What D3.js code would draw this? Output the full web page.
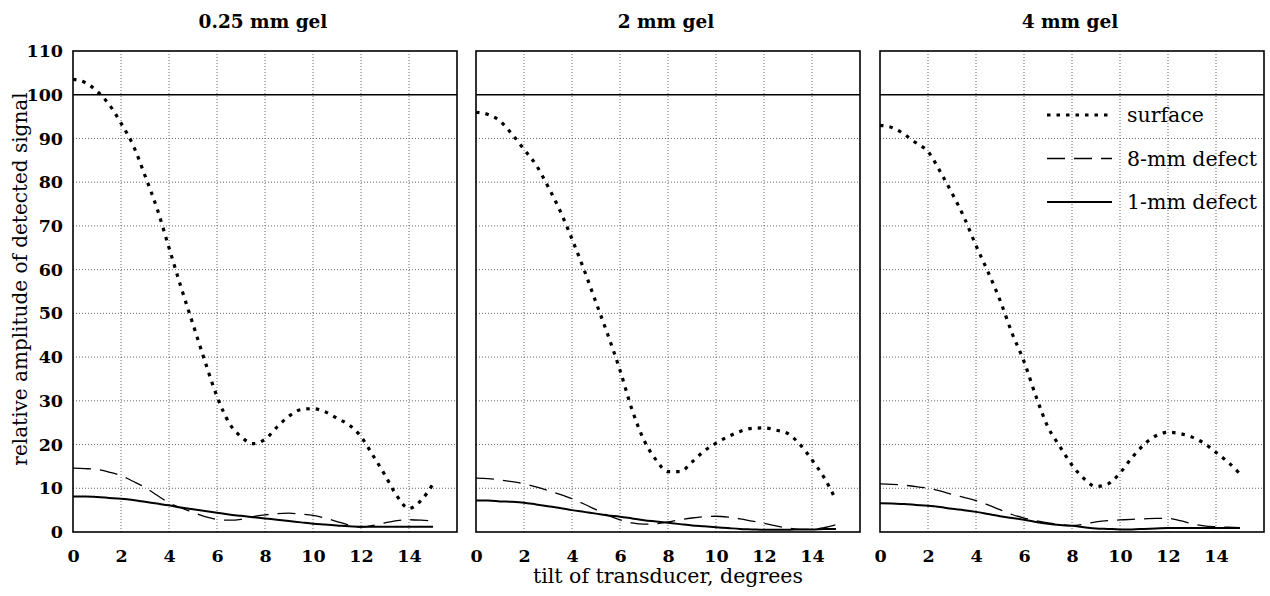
<!DOCTYPE html>
<html>
<head>
<meta charset="utf-8">
<script src="https://cdn.jsdelivr.net/npm/d3@7"></script>
<style>
  body { margin: 0; background: #fff; }
  svg text { fill: #000; }
</style>
</head>
<body>
<svg id="chart" width="1270" height="596"></svg>
<script>
// Tilt angle of the transducer (degrees) at which each curve is sampled
const tilt = [0, 0.5, 1, 1.5, 2, 2.5, 3, 3.5, 4, 4.5, 5, 5.5, 6, 6.5, 7, 7.5,
              8, 8.5, 9, 9.5, 10, 10.5, 11, 11.5, 12, 12.5, 13, 13.5, 14, 14.5, 15];

const panelTitles = ["0.25 mm gel", "2 mm gel", "4 mm gel"];
const seriesNames = ["surface", "8-mm defect", "1-mm defect"];

// 0.25 mm gel
const surface025 = [103.5, 102.8, 100.8, 97.8, 93.5, 88.5, 81.5, 74, 65, 56, 47.5, 39, 31, 25, 21.8, 20.2,
                    21.2, 24, 26.5, 28, 28.2, 27.5, 26, 24.5, 21.8, 17.5, 13, 8.2, 5.4, 7.2, 11];
const defect8_025 = [14.6, 14.5, 14.3, 13.7, 12.9, 11.6, 10.2, 8.4, 6.7, 5.5, 4.5, 3.5, 2.9, 2.7, 2.9, 3.5,
                     3.9, 4.2, 4.3, 4.1, 3.8, 3.2, 2.4, 1.6, 1.1, 1.5, 2.1, 2.6, 2.8, 2.7, 2.5];
const defect1_025 = [8.1, 8.1, 8.0, 7.8, 7.6, 7.3, 6.9, 6.5, 6.1, 5.6, 5.2, 4.8, 4.4, 4.0, 3.7, 3.4,
                     3.1, 2.8, 2.5, 2.2, 1.9, 1.7, 1.5, 1.3, 1.2, 1.2, 1.2, 1.2, 1.2, 1.2, 1.2];

// 2 mm gel
const surface2 = [96, 95.5, 94, 91, 87.5, 84, 79, 73.5, 67, 60, 52.5, 45, 37, 28, 21, 16.5,
                  13.8, 13.8, 16, 18.5, 20.3, 21.8, 23, 23.7, 23.8, 23.3, 22.5, 20, 16.5, 12.5, 7.3];
const defect8_2 = [12.3, 12.2, 11.9, 11.5, 11.0, 10.3, 9.5, 8.6, 7.6, 6.4, 5.1, 3.8, 2.8, 2.1, 1.8, 1.9,
                   2.3, 2.8, 3.2, 3.5, 3.6, 3.4, 3.0, 2.5, 2.0, 1.4, 0.9, 0.6, 0.6, 1.0, 1.7];
const defect1_2 = [7.2, 7.2, 7.0, 6.9, 6.7, 6.3, 5.9, 5.5, 5.0, 4.6, 4.2, 3.8, 3.5, 3.1, 2.7, 2.4,
                   2.1, 1.8, 1.5, 1.3, 1.1, 0.9, 0.7, 0.6, 0.5, 0.5, 0.5, 0.6, 0.6, 0.7, 0.7];

// 4 mm gel
const surface4 = [93, 92.5, 91, 89, 87, 82.5, 77.5, 72, 65.5, 59.5, 53, 45.5, 39, 31, 24, 19.5,
                  15.3, 12.2, 10.4, 11, 13.5, 17, 20, 22, 22.8, 22.5, 21.7, 20.3, 18.2, 16, 13.3];
const defect8_4 = [11.0, 10.9, 10.7, 10.4, 10.0, 9.4, 8.6, 7.9, 7.2, 6.2, 5.1, 4.0, 3.2, 2.6, 2.1, 1.7,
                   1.5, 1.8, 2.3, 2.6, 2.75, 2.9, 3.0, 3.1, 3.1, 2.6, 1.9, 1.4, 1.2, 1.1, 1.0];
const defect1_4 = [6.6, 6.5, 6.4, 6.2, 6.0, 5.7, 5.3, 5.0, 4.6, 4.1, 3.6, 3.2, 2.8, 2.3, 1.9, 1.6,
                   1.4, 1.1, 0.8, 0.7, 0.6, 0.6, 0.7, 0.8, 0.9, 0.9, 0.9, 0.9, 0.9, 0.9, 0.9];

const xTicks = [0, 2, 4, 6, 8, 10, 12, 14];
const yTicks = [0, 10, 20, 30, 40, 50, 60, 70, 80, 90, 100, 110];
const referenceLevel = 100;

const panelSeries = [
  [surface025, defect8_025, defect1_025],
  [surface2, defect8_2, defect1_2],
  [surface4, defect8_4, defect1_4]
];

// Line styles per series: dotted, long-dashed, solid
const lineStyles = [
  { width: 3.2, dash: "3.5,6" },
  { width: 1.3, dash: "18,9" },
  { width: 2, dash: null }
];

const serif = "'DejaVu Serif', 'Liberation Serif', serif";
const svg = d3.select("#chart");

const panelLeft = [73, 476, 880];
const panelW = 384;
const plotTop = 51, plotBottom = 532;

const y = d3.scaleLinear().domain([0, 110]).range([plotBottom, plotTop]);

panelTitles.forEach((title, p) => {
  const x = d3.scaleLinear().domain([0, 16]).range([panelLeft[p], panelLeft[p] + panelW]);
  const g = svg.append("g");

  // dotted grid
  g.selectAll("line.vgrid").data(xTicks.filter(t => t > 0)).join("line")
    .attr("x1", d => x(d)).attr("x2", d => x(d))
    .attr("y1", plotTop).attr("y2", plotBottom)
    .attr("stroke", "#555").attr("stroke-width", 0.9).attr("stroke-dasharray", "1,2");
  g.selectAll("line.hgrid").data(yTicks.filter(t => t > 0 && t < referenceLevel)).join("line")
    .attr("x1", x(0)).attr("x2", x(16))
    .attr("y1", d => y(d)).attr("y2", d => y(d))
    .attr("stroke", "#555").attr("stroke-width", 0.9).attr("stroke-dasharray", "1,2");

  // reference level
  g.append("line")
    .attr("x1", x(0)).attr("x2", x(16))
    .attr("y1", y(referenceLevel)).attr("y2", y(referenceLevel))
    .attr("stroke", "#000").attr("stroke-width", 1.5);

  // curves
  const line = d3.line()
    .x((d, i) => x(tilt[i]))
    .y(d => y(d))
    .curve(d3.curveMonotoneX);
  panelSeries[p].forEach((vals, s) => {
    const st = lineStyles[s];
    g.append("path")
      .attr("d", line(vals))
      .attr("fill", "none")
      .attr("stroke", "#000")
      .attr("stroke-width", st.width)
      .attr("stroke-dasharray", st.dash);
  });

  // frame
  g.append("rect")
    .attr("x", x(0)).attr("y", plotTop)
    .attr("width", panelW).attr("height", plotBottom - plotTop)
    .attr("fill", "none").attr("stroke", "#000").attr("stroke-width", 1.6);

  // x axis labels
  const xAxis = d3.axisBottom(x).tickValues(xTicks).tickSize(0).tickPadding(18);
  const xa = g.append("g").attr("transform", `translate(0,${plotBottom})`).call(xAxis);
  xa.select(".domain").remove();
  xa.selectAll("text")
    .attr("font-family", serif).attr("font-weight", "bold").attr("font-size", 17.5);

  // y axis labels (first panel only)
  if (p === 0) {
    const yAxis = d3.axisLeft(y).tickValues(yTicks).tickSize(0).tickPadding(10);
    const ya = g.append("g").attr("transform", `translate(${x(0)},0)`).call(yAxis);
    ya.select(".domain").remove();
    ya.selectAll("text")
      .attr("font-family", serif).attr("font-weight", "bold").attr("font-size", 17.5);
  }

  // panel title
  svg.append("text")
    .attr("x", panelLeft[p] + panelW / 2 - 2)
    .attr("y", 28)
    .attr("text-anchor", "middle")
    .attr("font-family", serif).attr("font-weight", "bold").attr("font-size", 18.5)
    .text(title);

  // legend in the last panel
  if (p === 2) {
    const lx0 = 1047, lx1 = 1112, ly0 = 115, ldy = 43.5;
    seriesNames.forEach((name, s) => {
      const st = lineStyles[s];
      const yy = ly0 + s * ldy;
      g.append("line")
        .attr("x1", lx0).attr("x2", lx1).attr("y1", yy).attr("y2", yy)
        .attr("stroke", "#000").attr("stroke-width", st.width)
        .attr("stroke-dasharray", st.dash);
      g.append("text")
        .attr("x", 1127).attr("y", yy).attr("dy", "0.35em")
        .attr("font-family", serif).attr("font-size", 20.5)
        .text(name);
    });
  }
});

// axis titles
svg.append("text")
  .attr("x", 668).attr("y", 583)
  .attr("text-anchor", "middle")
  .attr("font-family", serif).attr("font-size", 20.5)
  .text("tilt of transducer, degrees");

svg.append("text")
  .attr("transform", "translate(27,279) rotate(-90)")
  .attr("text-anchor", "middle")
  .attr("font-family", serif).attr("font-size", 20)
  .text("relative amplitude of detected signal");
</script>
</body>
</html>
